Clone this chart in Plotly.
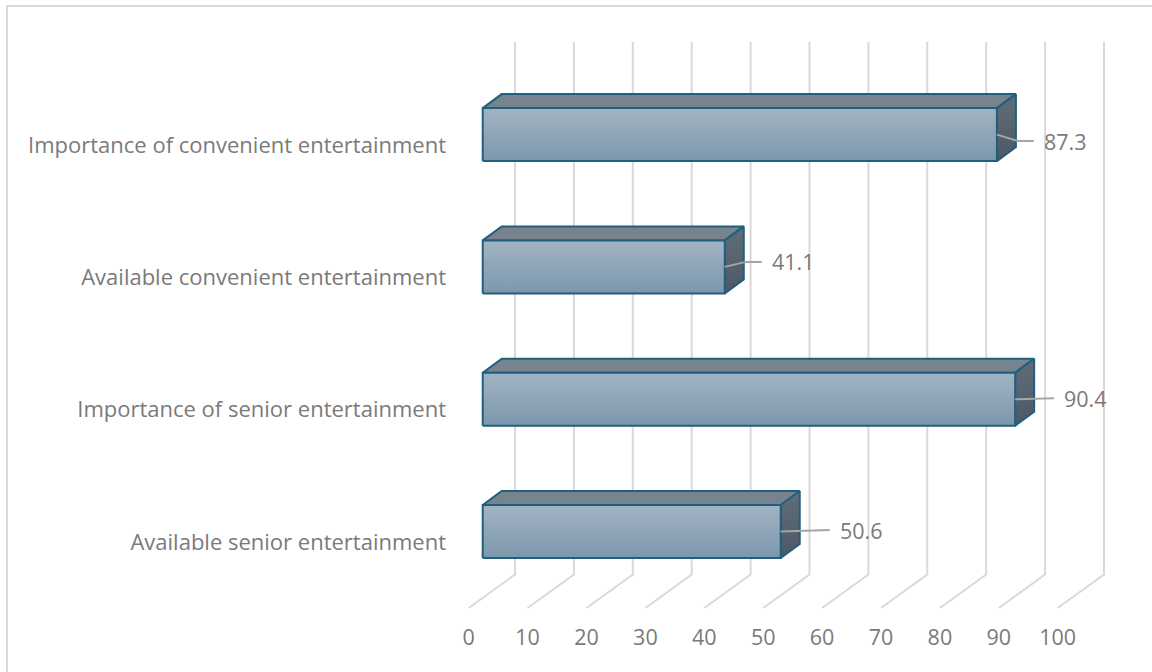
import plotly.graph_objects as go

# ---------------- data ----------------
categories = [
    "Available senior entertainment",
    "Importance of senior entertainment",
    "Available convenient entertainment",
    "Importance of convenient entertainment",
]
values = [50.6, 90.4, 41.1, 87.3]
x_ticks = [0, 10, 20, 30, 40, 50, 60, 70, 80, 90, 100]

# ---------------- layout geometry (pixels) ----------------
W, H = 1152, 672
PLOT_L, PLOT_B = 455, 620          # plot area left edge / bottom edge (px)
PX_PER_VAL = 5.89                  # px per value unit
X0_PX = 482.7                      # px of value 0 on the bar front plane
Y0_PX = 531.5                      # px of first category centre
PX_PER_CAT = 132.3                 # px between categories

BAR_HALF_PX = 26.5
DEPTH_DX_PX, DEPTH_DY_PX = 19.0, 14.0
WALL_DX_PX = 32.3                  # back wall offset from bar front plane
FLOOR_FRONT_DX_PX = -14.0
FLOOR_BACK_Y_PX, FLOOR_FRONT_Y_PX, WALL_TOP_Y_PX = 574.5, 608.0, 42.0
CAT_LABEL_SHIFT_PX = 10.5

label_gap_px = [57, 47, 45, 45]    # distance from bar end to data label
label_dy_px = [1.5, 1.0, 5.0, -6.5]  # label vertical offset (px, up positive)

TEXT = "#7A7A7A"
FONT = "Open Sans"
FS_CAT, FS_TICK, FS_LAB = 22, 21.5, 21.5
OUTLINE = "#215F80"
GRID = "#D9D9D9"


def ux(px):
    return px / PX_PER_VAL


def uy(px):
    return px / PX_PER_CAT


def ypx_to_cat(py):
    return (Y0_PX - py) / PX_PER_CAT


x_range = [(PLOT_L - X0_PX) / PX_PER_VAL, (W - X0_PX) / PX_PER_VAL]
y_range = [ypx_to_cat(PLOT_B), ypx_to_cat(0)]
x2_shift = ux(FLOOR_FRONT_DX_PX)
x2_range = [x_range[0] - x2_shift, x_range[1] - x2_shift]
y2_shift = uy(CAT_LABEL_SHIFT_PX)
y2_range = [y_range[0] + y2_shift, y_range[1] + y2_shift]

fig = go.Figure()

# ---------------- 3D gridlines (back wall + floor) ----------------
gx, gy = [], []
yb, yf, yt = ypx_to_cat(FLOOR_BACK_Y_PX), ypx_to_cat(FLOOR_FRONT_Y_PX), ypx_to_cat(WALL_TOP_Y_PX)
for t in x_ticks:
    xb = t + ux(WALL_DX_PX)
    xf = t + ux(FLOOR_FRONT_DX_PX)
    gx += [xb, xb, xf, None]
    gy += [yt, yb, yf, None]
fig.add_trace(go.Scatter(x=gx, y=gy, mode="lines", line=dict(color=GRID, width=2),
                         hoverinfo="skip", showlegend=False))

# ---------------- 3D bars ----------------
dx, dy, hh = ux(DEPTH_DX_PX), uy(DEPTH_DY_PX), uy(BAR_HALF_PX)
for i, v in enumerate(values):
    top, bot = i + hh, i - hh
    # top face
    fig.add_trace(go.Scatter(
        x=[0, dx, v + dx, v, 0], y=[top, top + dy, top + dy, top, top],
        mode="lines", fill="toself", fillcolor="#77848F",
        line=dict(color=OUTLINE, width=2), hoverinfo="skip", showlegend=False))
    # side face
    fig.add_trace(go.Scatter(
        x=[v, v + dx, v + dx, v, v], y=[top, top + dy, bot + dy, bot, top],
        mode="lines", fill="toself",
        fillgradient=dict(type="vertical", colorscale=[[0, "#4C5865"], [1, "#616D79"]]),
        line=dict(color=OUTLINE, width=2), hoverinfo="skip", showlegend=False))
    # front face
    fig.add_trace(go.Scatter(
        x=[0, v, v, 0, 0], y=[bot, bot, top, top, bot],
        mode="lines", fill="toself",
        fillgradient=dict(type="vertical", colorscale=[[0, "#7C97AC"], [1, "#A2B4C3"]]),
        line=dict(color=OUTLINE, width=2), hoverinfo="skip", showlegend=False))

# ---------------- data labels with leader lines ----------------
for i, v in enumerate(values):
    gap = label_gap_px[i]
    ly = i + uy(label_dy_px[i])
    x_end = v + ux(gap - 8)
    x_elb = v + ux(max(gap - 24, 0) if label_dy_px[i] != 0 else 0)
    fig.add_trace(go.Scatter(
        x=[v, x_elb, x_end], y=[i, ly, ly], mode="lines",
        line=dict(color="#A6A6A6", width=2), hoverinfo="skip", showlegend=False))
    fig.add_annotation(x=v + ux(gap), y=ly, xref="x", yref="y", text=f"{v}",
                       showarrow=False, xanchor="left", yanchor="middle",
                       font=dict(family=FONT, size=FS_LAB, color=TEXT))

# dummy trace carrying the label axes
fig.add_trace(go.Scatter(x=[None], y=[None], xaxis="x2", yaxis="y2",
                         hoverinfo="skip", showlegend=False))


# chart area border
def px_to_paper_x(px):
    return (px - PLOT_L) / (W - PLOT_L)


def px_to_paper_y(py):
    return (PLOT_B - py) / PLOT_B


fig.add_shape(type="rect", xref="paper", yref="paper",
              x0=px_to_paper_x(7), x1=px_to_paper_x(1170),
              y0=px_to_paper_y(690), y1=px_to_paper_y(6),
              line=dict(color=GRID, width=2), fillcolor="rgba(0,0,0,0)", layer="below")

fig.update_layout(
    width=W, height=H,
    margin=dict(l=PLOT_L, r=0, t=0, b=H - PLOT_B, pad=0),
    paper_bgcolor="white", plot_bgcolor="rgba(0,0,0,0)",
    showlegend=False, hovermode=False,
    xaxis=dict(range=x_range, visible=False, fixedrange=True),
    yaxis=dict(range=y_range, visible=False, fixedrange=True),
    xaxis2=dict(range=x2_range, overlaying="x", anchor="y2", side="bottom",
                tickvals=x_ticks, ticktext=[str(t) for t in x_ticks],
                showgrid=False, zeroline=False, showline=False,
                ticks="", ticklabelstandoff=2,
                tickfont=dict(family=FONT, size=FS_TICK, color=TEXT), fixedrange=True),
    yaxis2=dict(range=y2_range, overlaying="y", anchor="x2", side="left",
                tickvals=list(range(len(categories))), ticktext=categories,
                showgrid=False, zeroline=False, showline=False, ticks="",
                ticklabelstandoff=8,
                tickfont=dict(family=FONT, size=FS_CAT, color=TEXT), fixedrange=True),
)

fig.write_html("out.html")
